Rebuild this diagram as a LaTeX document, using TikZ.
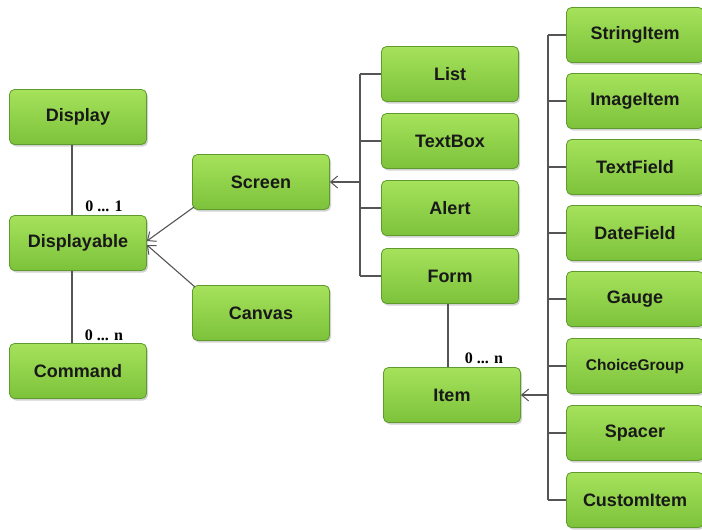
\documentclass[tikz,border=0pt]{standalone}
\usepackage{fontspec}
\setmainfont{Liberation Sans}
\newfontfamily\lblfont{Liberation Serif}
\usetikzlibrary{arrows.meta,shadows}
\definecolor{boxtop}{HTML}{A6E25C}
\definecolor{boxbot}{HTML}{7CC23A}
\definecolor{boxline}{HTML}{5E9A2C}
\definecolor{conn}{HTML}{555555}
\begin{document}
\begin{tikzpicture}[x=1pt,y=-1pt,
  box/.style={draw=boxline,line width=0.8pt,rounded corners=5pt,
    top color=boxtop,bottom color=boxbot,
    minimum width=137pt,minimum height=55pt,inner sep=0pt,
    font=\bfseries\fontsize{18}{20}\selectfont,text=black!90,
    drop shadow={shadow xshift=1.5pt,shadow yshift=-2pt,opacity=0.35}},
  lbl/.style={font=\lblfont\bfseries\fontsize{16}{18}\selectfont,inner sep=1pt},
  con/.style={draw=conn,line width=1.1pt},
  arr/.style={con,-{Straight Barb[length=7pt,width=12pt,line width=1pt]}}]
\useasboundingbox[fill=white] (0,0) rectangle (702,530);
% left column
\node[box] (display) at (78,117) {Display};
\node[box] (displayable) at (78,243) {Displayable};
\node[box] (command) at (78,371) {Command};
% middle
\node[box] (screen) at (261,182) {Screen};
\node[box] (canvas) at (261,313) {Canvas};
% screen subclasses
\node[box] (list) at (450,74) {List};
\node[box] (textbox) at (450,141) {TextBox};
\node[box] (alert) at (450,208) {Alert};
\node[box] (form) at (450,276) {Form};
\node[box] (item) at (452,395) {Item};
% item subclasses
\node[box] (stringitem) at (635,35) {StringItem};
\node[box] (imageitem) at (635,101) {ImageItem};
\node[box] (textfield) at (635,167) {TextField};
\node[box] (datefield) at (635,233) {DateField};
\node[box] (gauge) at (635,299) {Gauge};
\node[box,font=\bfseries\fontsize{15.5}{17}\selectfont] (choicegroup) at (635,366) {ChoiceGroup};
\node[box] (spacer) at (635,433) {Spacer};
\node[box] (customitem) at (635,500) {CustomItem};
% labels
\node[lbl] (m1) at (104,206) {0 ... 1};
\node[lbl] (m2) at (104,335) {0 ... n};
\node[lbl] (m3) at (484,358) {0 ... n};
% associations
\draw[con] ([xshift=-6pt]display.south) -- ([xshift=-6pt]displayable.north);
\draw[con] ([xshift=-6pt]displayable.south) -- ([xshift=-6pt]command.north);
\draw[con] ([xshift=-2pt]form.south) -- ([xshift=-4pt]item.north);
% generalisations to Displayable
\draw[arr] ([xshift=2pt,yshift=3pt]screen.south west) -- ([yshift=2pt]displayable.east);
\draw[arr] ([xshift=3pt,yshift=-2pt]canvas.north west) -- ([yshift=-2pt]displayable.east);
% bracket to Screen
\coordinate (b1) at (360,182);
\draw[arr] (b1) -- (screen.east);
\draw[con] (list.west -| b1) -- (form.west -| b1);
\foreach \n in {list,textbox,alert,form} \draw[con] (\n.west -| b1) -- (\n.west);
% bracket to Item
\coordinate (b2) at (548,395);
\draw[arr] (b2) -- (item.east);
\draw[con] (stringitem.west -| b2) -- (customitem.west -| b2);
\foreach \n in {stringitem,imageitem,textfield,datefield,gauge,choicegroup,spacer,customitem} \draw[con] (\n.west -| b2) -- (\n.west);
\end{tikzpicture}
\end{document}
